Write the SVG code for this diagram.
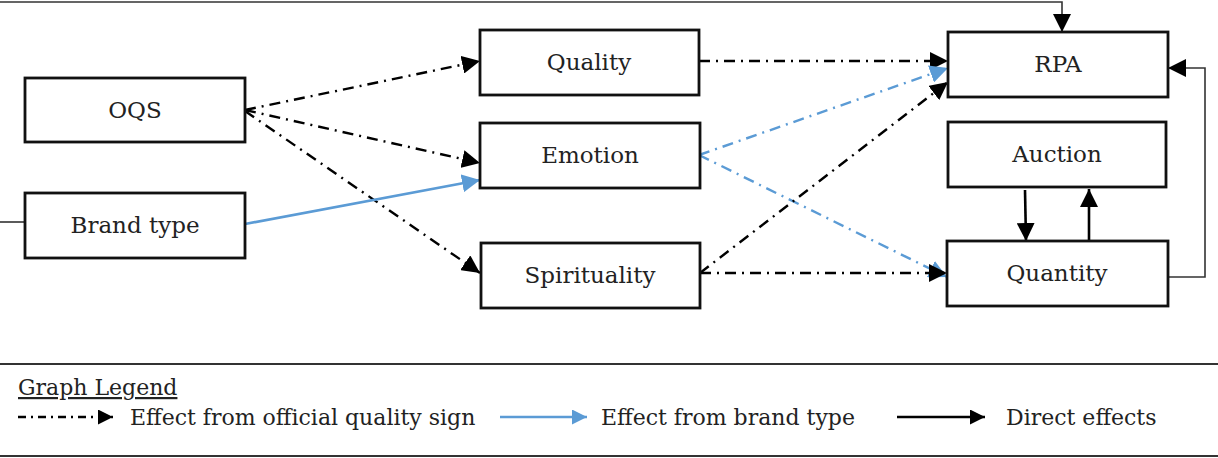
<svg xmlns="http://www.w3.org/2000/svg" width="1218" height="458" viewBox="0 0 1218 458">
<style>
.box{fill:#fff;stroke:#111;stroke-width:2.8}
.t{font-family:"DejaVu Serif","Liberation Serif",serif;font-size:23px;fill:#222;text-anchor:middle}
.lt{font-family:"DejaVu Serif","Liberation Serif",serif;font-size:22px;fill:#222}
.dd{fill:none;stroke:#000;stroke-width:2.4;stroke-dasharray:11 6 2 6}
.bd{fill:none;stroke:#5b9bd5;stroke-width:2.4;stroke-dasharray:11 6 2 6}
.bs{fill:none;stroke:#5b9bd5;stroke-width:2.6}
.s{fill:none;stroke:#000;stroke-width:2.6}
.thin{fill:none;stroke:#333;stroke-width:1.6}
</style>
<defs>
<marker id="ak" viewBox="0 0 10 10" refX="10" refY="5" markerWidth="15" markerHeight="15" markerUnits="userSpaceOnUse" orient="auto"><path d="M0,0 L10,5 L0,10 z" fill="#000"/></marker>
<marker id="ab" viewBox="0 0 10 10" refX="10" refY="5" markerWidth="15" markerHeight="15" markerUnits="userSpaceOnUse" orient="auto"><path d="M0,0 L10,5 L0,10 z" fill="#5b9bd5"/></marker>
<marker id="akL" viewBox="0 0 10 10" refX="10" refY="5" markerWidth="18" markerHeight="18" markerUnits="userSpaceOnUse" orient="auto"><path d="M0,0 L10,5 L0,10 z" fill="#000"/></marker>
<marker id="abL" viewBox="0 0 10 10" refX="10" refY="5" markerWidth="18" markerHeight="18" markerUnits="userSpaceOnUse" orient="auto"><path d="M0,0 L10,5 L0,10 z" fill="#5b9bd5"/></marker>
</defs>
<g id="connectors">
<path class="thin" d="M0,2 H1062 V32" marker-end="url(#akL)"/>
<path class="thin" d="M0,222 H25"/>
<path class="dd" d="M245,110 L480,61" marker-end="url(#akL)"/>
<path class="dd" d="M245,110 L480,163" marker-end="url(#akL)"/>
<path class="dd" d="M245,111 L480,273" marker-end="url(#akL)"/>
<path class="bs" d="M245,224 L480,180" marker-end="url(#abL)"/>
<path class="dd" d="M699,61 L948,61" marker-end="url(#akL)"/>
<path class="bd" d="M699,155 L948,68" marker-end="url(#abL)"/>
<path class="bd" d="M699,155 L947,277" marker-end="url(#abL)"/>
<path class="dd" d="M700,273 L948,82" marker-end="url(#akL)"/>
<path class="dd" d="M700,273 L947,273" marker-end="url(#akL)"/>
<path class="s" d="M1025,190 L1026,241" marker-end="url(#akL)"/>
<path class="s" d="M1089,241 L1089,189" marker-end="url(#akL)"/>
<path class="thin" d="M1168,277 H1205 V68 H1168" marker-end="url(#akL)"/>
</g>
<g id="OQS"><rect class="box" x="25" y="78" width="220" height="64"/><text class="t" x="135" y="118">OQS</text></g>
<g id="BrandType"><rect class="box" x="25" y="193" width="220" height="65"/><text class="t" x="135" y="233">Brand type</text></g>
<g id="Quality"><rect class="box" x="480" y="30" width="219" height="65"/><text class="t" x="589" y="70">Quality</text></g>
<g id="Emotion"><rect class="box" x="480" y="123" width="220" height="65"/><text class="t" x="590" y="163">Emotion</text></g>
<g id="Spirituality"><rect class="box" x="481" y="243" width="219" height="65"/><text class="t" x="590" y="283">Spirituality</text></g>
<g id="RPA"><rect class="box" x="948" y="32" width="220" height="65"/><text class="t" x="1058" y="72">RPA</text></g>
<g id="Auction"><rect class="box" x="948" y="122" width="218" height="65"/><text class="t" x="1057" y="162">Auction</text></g>
<g id="Quantity"><rect class="box" x="947" y="241" width="221" height="65"/><text class="t" x="1057" y="281">Quantity</text></g>
<g id="legend">
<line x1="0" y1="364" x2="1218" y2="364" stroke="#333" stroke-width="2"/>
<line x1="0" y1="456" x2="1218" y2="456" stroke="#333" stroke-width="2"/>
<text class="lt" x="18" y="395" text-decoration="underline">Graph Legend</text>
<path class="dd" d="M18,417 L113,417" marker-end="url(#ak)" style="stroke-dasharray:8 5 2 5"/>
<text class="lt" x="130" y="425">Effect from official quality sign</text>
<path class="bs" d="M500,417 L587,417" marker-end="url(#ab)"/>
<text class="lt" x="601" y="425">Effect from brand type</text>
<path class="s" d="M897,417 L985,417" marker-end="url(#ak)"/>
<text class="lt" x="1006" y="425">Direct effects</text>
</g>
</svg>
